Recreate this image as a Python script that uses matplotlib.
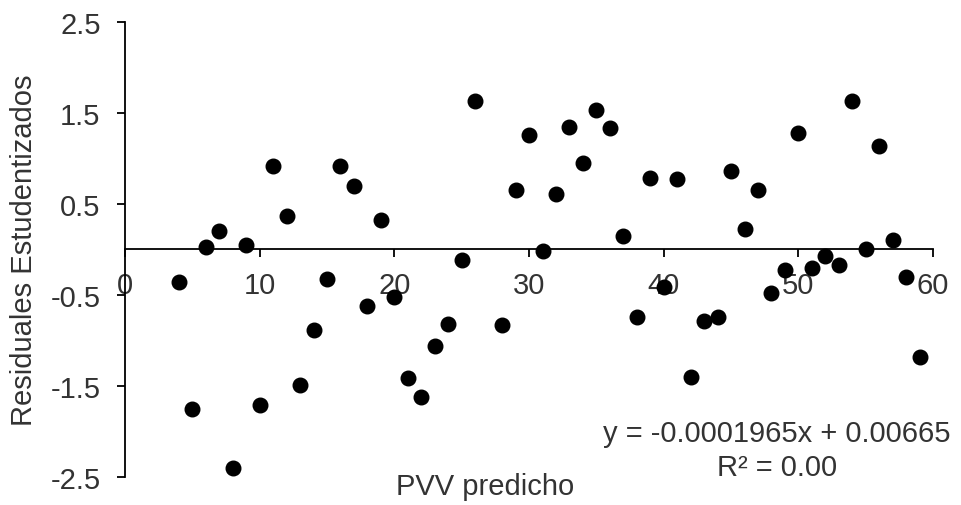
import numpy as np
import matplotlib
matplotlib.use("Agg")
import matplotlib.pyplot as plt

plt.rcParams['font.family'] = ['Liberation Sans', 'DejaVu Sans']

# PVV predicho (x) y residuales estudentizados (y)
pvv = [4, 5, 6, 7, 8, 9, 10, 11, 12, 13, 14, 15, 16, 17, 18, 19, 20, 21, 22, 23,
       24, 25, 26, 28, 29, 30, 31, 32, 33, 34, 35, 36, 37, 38, 39, 40, 41, 42, 43,
       44, 45, 46, 47, 48, 49, 50, 51, 52, 53, 54, 55, 56, 57, 58, 59]
resid = [-0.36, -1.76, 0.02, 0.20, -2.40, 0.05, -1.71, 0.92, 0.37, -1.49, -0.89,
         -0.33, 0.91, 0.69, -0.62, 0.32, -0.53, -1.42, -1.62, -1.06, -0.82, -0.12,
         1.63, -0.83, 0.65, 1.26, -0.02, 0.61, 1.34, 0.95, 1.53, 1.33, 0.15, -0.75,
         0.78, -0.42, 0.77, -1.40, -0.79, -0.74, 0.86, 0.22, 0.65, -0.48, -0.23,
         1.28, -0.21, -0.07, -0.17, 1.63, 0.00, 1.14, 0.10, -0.31, -1.19]

yticks = [-2.5, -1.5, -0.5, 0.5, 1.5, 2.5]
xticks = [0, 10, 20, 30, 40, 50, 60]

txt = '#333333'
fs = 21

fig = plt.figure(figsize=(9.61, 5.06), dpi=100)
ax = fig.add_axes([0.130, 0.056, 0.841, 0.899])

ax.scatter(pvv, resid, s=110, color='black', zorder=3)

ax.set_xlim(0, 60)
ax.set_ylim(-2.5, 2.5)
ax.set_xticks(xticks)
ax.set_yticks(yticks)
ax.set_yticklabels([str(t) for t in yticks])

ax.spines['top'].set_visible(False)
ax.spines['right'].set_visible(False)
ax.spines['bottom'].set_position(('data', 0))
for s in ('left', 'bottom'):
    ax.spines[s].set_linewidth(1.3)

ax.tick_params(axis='both', labelsize=fs, labelcolor=txt, length=6, width=1.3, direction='out')
ax.tick_params(axis='x', pad=10)
ax.tick_params(axis='y', pad=11.5)

ax.set_ylabel('Residuales Estudentizados', fontsize=fs, color=txt, va='center')
ax.yaxis.set_label_coords(-0.125, 0.5)
ax.set_xlabel('PVV predicho', fontsize=fs, color=txt, va='center')
ax.xaxis.set_label_coords(0.446, -0.020)

ax.text(0.807, 0.059, 'y = -0.0001965x + 0.00665\nR² = 0.00', transform=ax.transAxes,
        fontsize=fs, color=txt, ha='center', va='center', linespacing=1.29)

fig.savefig('out.png', dpi=100)
